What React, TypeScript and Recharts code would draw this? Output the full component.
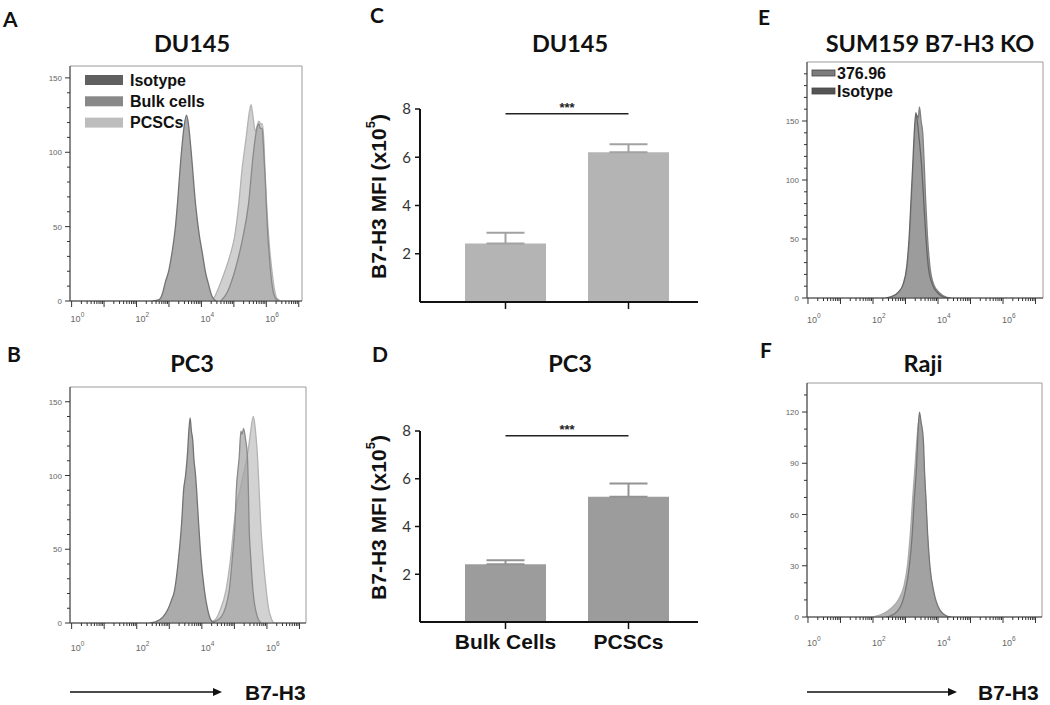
import React from 'react';
import { ComposedChart, Area, XAxis, YAxis, BarChart, Bar, ErrorBar, ReferenceLine, ReferenceArea } from 'recharts';

// ---- flow cytometry histograms: x = log10(B7-H3 intensity), y = cell count ----
// DU145 (panel A)
const duIsoX = [2.5, 2.7, 2.8, 2.88, 3.0, 3.09, 3.2, 3.26, 3.38, 3.47, 3.54, 3.6, 3.69, 3.82, 3.93, 4.03, 4.12, 4.21, 4.33, 4.45];
const duIsoY = [0, 1, 5, 12, 21, 32, 50, 65, 99, 118, 125, 119, 99, 65, 45, 32, 20, 12, 3, 0];
const duBulkX = [4.6, 4.8, 5.04, 5.25, 5.45, 5.6, 5.7, 5.77, 5.82, 5.87, 5.92, 5.97, 6.03, 6.1, 6.17, 6.28, 6.4];
const duBulkY = [0, 6, 21, 40, 65, 99, 115, 119, 116, 116, 100, 80, 50, 28, 12, 2, 0];
const duPcscX = [4.2, 4.38, 4.55, 4.74, 4.9, 5.02, 5.15, 5.25, 5.38, 5.47, 5.53, 5.59, 5.66, 5.72, 5.77, 5.83, 5.88, 5.93, 5.96, 6.04, 6.1, 6.17, 6.25, 6.32, 6.45];
const duPcscY = [0, 2, 10, 21, 32, 43, 65, 88, 110, 126, 132, 124, 114, 118, 121, 119, 119, 105, 88, 54, 36, 21, 8, 2, 0];

// PC3 (panel B)
const pcIsoX = [2.4, 2.6, 2.8, 2.95, 3.06, 3.16, 3.29, 3.38, 3.44, 3.5, 3.56, 3.6, 3.64, 3.68, 3.72, 3.76, 3.8, 3.84, 3.9, 3.97, 4.08, 4.18, 4.28, 4.4];
const pcIsoY = [0, 1, 4, 9, 15, 22, 45, 68, 90, 100, 115, 130, 139, 130, 124, 110, 102, 90, 68, 45, 22, 9, 2, 0];
const pcBulkX = [4.2, 4.38, 4.59, 4.84, 4.94, 5.02, 5.06, 5.15, 5.2, 5.24, 5.28, 5.34, 5.4, 5.43, 5.45, 5.5, 5.57, 5.71, 5.81];
const pcBulkY = [0, 1, 4, 22, 45, 68, 90, 113, 130, 128, 132, 125, 113, 90, 68, 45, 22, 4, 0];
const pcPcscX = [4.2, 4.4, 4.55, 4.74, 4.89, 4.99, 5.06, 5.15, 5.25, 5.35, 5.43, 5.5, 5.58, 5.63, 5.67, 5.71, 5.76, 5.81, 5.88, 5.98, 6.05, 6.12, 6.2];
const pcPcscY = [0, 2, 8, 22, 45, 67, 79, 88, 98, 108, 118, 130, 140, 134, 125, 113, 90, 67, 45, 22, 10, 4, 0];

// SUM159 B7-H3 KO (panel E)
const koStainX = [2.4, 2.52, 2.78, 2.95, 3.06, 3.14, 3.19, 3.24, 3.29, 3.35, 3.39, 3.43, 3.48, 3.53, 3.58, 3.62, 3.67, 3.75, 3.86, 4.06, 4.27, 4.4];
const koStainY = [0, 0.5, 4, 12, 27, 55, 83, 111, 140, 155, 152, 162, 150, 140, 111, 83, 55, 27, 12, 4, 0.5, 0];
const koIsoX = [2.4, 2.55, 2.78, 2.93, 3.04, 3.12, 3.17, 3.22, 3.27, 3.32, 3.37, 3.42, 3.5, 3.56, 3.62, 3.7, 3.82, 4.0, 4.2, 4.35];
const koIsoY = [0, 1, 5, 12, 27, 55, 83, 111, 140, 157, 148, 135, 111, 83, 55, 27, 12, 4, 0.5, 0];

// Raji (panel F)
const rajiStainX = [2.4, 2.52, 2.78, 2.98, 3.12, 3.21, 3.27, 3.34, 3.39, 3.43, 3.48, 3.53, 3.56, 3.58, 3.63, 3.68, 3.75, 3.88, 4.06, 4.27, 4.4];
const rajiStainY = [0, 0.5, 4, 14, 30, 49, 69, 88, 110, 120, 114, 108, 100, 88, 69, 49, 30, 14, 4, 0.5, 0];
const rajiIsoX = [2.0, 2.32, 2.55, 2.78, 2.95, 3.06, 3.15, 3.22, 3.3, 3.37, 3.42, 3.47, 3.52, 3.57, 3.62, 3.67, 3.74, 3.86, 4.04, 4.25, 4.4];
const rajiIsoY = [0, 2, 5, 10, 18, 30, 49, 69, 90, 108, 116, 112, 104, 88, 69, 49, 30, 14, 4, 0.5, 0];

// axis graduations
const decades = [0, 1, 2, 3, 4, 5, 6, 7];
const decadeLabels = [0, 2, 4, 6];
const minorSteps = [0.301, 0.477, 0.602, 0.699, 0.778, 0.845, 0.903, 0.954];
const count150Ticks = [0, 10, 20, 30, 40, 50, 60, 70, 80, 90, 100, 110, 120, 130, 140, 150];
const count150Labels = [0, 50, 100, 150];
const count190Ticks = [0, 10, 20, 30, 40, 50, 60, 70, 80, 90, 100, 110, 120, 130, 140, 150, 160, 170, 180, 190];
const count130Ticks = [0, 10, 20, 30, 40, 50, 60, 70, 80, 90, 100, 110, 120, 130];
const count120Labels = [0, 30, 60, 90, 120];

// ---- MFI bar charts ----
const groups = ['Bulk Cells', 'PCSCs'];
const duMfi = [2.42, 6.21];
const duErr = [[0, 0.45], [0, 0.33]];
const pcMfi = [2.42, 5.25];
const pcErr = [[0, 0.17], [0, 0.55]];
const mfiTicks = [2, 4, 6, 8];
const sigLevel = 7.8;

const ARIAL = 'Liberation Sans, Arial, sans-serif';
const TITLE = 'Lato, Open Sans, sans-serif';

type Series = { key: string; name: string; xs: number[]; ys: number[]; fill: string; stroke: string; opacity: number };

function buildRows(series: Series[]) {
  const rows: any[] = [];
  series.forEach((s) => s.xs.forEach((x, i) => rows.push({ x, [s.key]: s.ys[i] })));
  rows.sort((a, b) => a.x - b.x);
  return rows;
}

function logTicks(max: number) {
  const out: number[] = [];
  decades.forEach((d) => {
    if (d <= max) out.push(d);
    minorSteps.forEach((m) => {
      if (d + m < max) out.push(d + m);
    });
  });
  return out;
}

const LogTick = (props: any) => {
  const { x, y, payload, labelDy } = props;
  const v = payload.value;
  const n = Math.round(v);
  const major = Math.abs(v - n) < 1e-6;
  const labeled = major && decadeLabels.includes(n);
  return (
    <g>
      <line x1={x} y1={y} x2={x} y2={y + (major ? 6 : 3)} stroke="#333" strokeWidth={1} />
      {labeled && (
        <text x={x - 1} y={y + labelDy} textAnchor="start" fontSize={9} fill="#666" fontFamily={ARIAL}>
          10
          <tspan dy={-5} fontSize={6.5}>
            {n}
          </tspan>
        </text>
      )}
    </g>
  );
};

const CountTick = (props: any) => {
  const { x, y, payload, labels } = props;
  const major = labels.includes(payload.value);
  return (
    <g>
      <line x1={x} y1={y} x2={x - (major ? 5 : 3)} y2={y} stroke="#333" strokeWidth={1} />
      {major && (
        <text x={x - 8} y={y + 3} textAnchor="end" fontSize={8} fill="#666" fontFamily={ARIAL}>
          {payload.value}
        </text>
      )}
    </g>
  );
};

type HistProps = {
  left: number; top: number; width: number; height: number;
  margin: any; xDomain: number[]; yDomain: number[];
  yTicks: number[]; yLabels: number[]; labelDy: number; series: Series[];
};

function HistPanel(p: HistProps) {
  const rows = buildRows(p.series);
  return (
    <div style={{ position: 'absolute', left: p.left, top: p.top }}>
      <ComposedChart width={p.width} height={p.height} data={rows} margin={p.margin}>
        <XAxis
          dataKey="x" type="number" domain={p.xDomain} ticks={logTicks(p.xDomain[1])} interval={0}
          tickSize={0} tickMargin={0} tickLine={false} height={25} allowDataOverflow
          axisLine={{ stroke: '#444' }}
          tick={(t: any) => <LogTick {...t} labelDy={p.labelDy} />}
        />
        <YAxis
          type="number" domain={p.yDomain} ticks={p.yTicks} interval={0} width={30}
          tickSize={0} tickMargin={0} tickLine={false} allowDataOverflow
          axisLine={{ stroke: '#444' }}
          tick={(t: any) => <CountTick {...t} labels={p.yLabels} />}
        />
        <ReferenceArea x1={p.xDomain[0]} x2={p.xDomain[1]} y1={p.yDomain[0]} y2={p.yDomain[1]}
          fill="none" stroke="#9a9a9a" strokeWidth={1} ifOverflow="visible" />
        {p.series.map((s) => (
          <Area
            key={s.key} dataKey={s.key} name={s.name} type="monotone" connectNulls
            fill={s.fill} fillOpacity={s.opacity} stroke={s.stroke} strokeWidth={1.3}
            dot={false} activeDot={false} isAnimationActive={false}
          />
        ))}
      </ComposedChart>
    </div>
  );
}

const MfiLabel = (props: any) => {
  const vb = props.viewBox || { x: 20, y: 0, width: 50, height: 200 };
  const cx = vb.x + 8;
  const cy = vb.y + vb.height / 2 - 9;
  return (
    <text x={cx} y={cy} transform={`rotate(-90 ${cx} ${cy})`} textAnchor="middle" dominantBaseline="central"
      fontFamily={ARIAL} fontWeight="bold" fontSize={21} fill="#111">
      B7-H3 MFI (x10
      <tspan dy={-8} fontSize={13}>5</tspan>
      <tspan dy={8}>)</tspan>
    </text>
  );
};

type BarProps = { left: number; top: number; margin: any; xHeight: number; mfi: number[]; err: number[][]; fill: string; errColor: string; showLabels: boolean };

function MfiPanel(p: BarProps) {
  const rows = groups.map((g, i) => ({ group: g, mfi: p.mfi[i], err: p.err[i] }));
  return (
    <div style={{ position: 'absolute', left: p.left, top: p.top }}>
      <BarChart width={350} height={330} data={rows} margin={p.margin}>
        <XAxis
          dataKey="group" height={p.xHeight} padding={{ left: 24, right: 8 }} interval={0}
          axisLine={{ stroke: '#111', strokeWidth: 2 }} tickLine={{ stroke: '#111', strokeWidth: 1.5 }}
          tickSize={7} tickMargin={5}
          tick={p.showLabels ? { fontFamily: ARIAL, fontWeight: 'bold', fontSize: 21, fill: '#111' } : () => <g />}
        />
        <YAxis
          type="number" domain={[0, 8]} ticks={mfiTicks} interval={0} width={50}
          axisLine={{ stroke: '#111', strokeWidth: 2 }} tickLine={{ stroke: '#111', strokeWidth: 1.5 }}
          tickSize={5} tickMargin={4}
          tick={{ fontFamily: TITLE, fontSize: 15, fill: '#333' }}
          label={<MfiLabel />}
        />
        <Bar dataKey="mfi" fill={p.fill} barSize={81} isAnimationActive={false}>
          <ErrorBar dataKey="err" width={19} stroke={p.errColor} strokeWidth={2} direction="y" />
        </Bar>
        <ReferenceLine
          segment={[{ x: groups[0], y: sigLevel }, { x: groups[1], y: sigLevel }]}
          stroke="#222" strokeWidth={1.5}
          label={{ value: '***', position: 'top', offset: 2, fontFamily: ARIAL, fontWeight: 'bold', fontSize: 13, fill: '#222' }}
        />
      </BarChart>
    </div>
  );
}

const duSeries: Series[] = [
  { key: 'pcsc', name: 'PCSCs', xs: duPcscX, ys: duPcscY, fill: '#d0d0d0', stroke: '#b3b3b3', opacity: 1 },
  { key: 'bulk', name: 'Bulk cells', xs: duBulkX, ys: duBulkY, fill: '#a3a3a3', stroke: '#8a8a8a', opacity: 0.65 },
  { key: 'iso', name: 'Isotype', xs: duIsoX, ys: duIsoY, fill: '#ababab', stroke: '#737373', opacity: 1 },
];
const pcSeries: Series[] = [
  { key: 'pcsc', name: 'PCSCs', xs: pcPcscX, ys: pcPcscY, fill: '#d2d2d2', stroke: '#b3b3b3', opacity: 1 },
  { key: 'bulk', name: 'Bulk cells', xs: pcBulkX, ys: pcBulkY, fill: '#a3a3a3', stroke: '#8a8a8a', opacity: 0.7 },
  { key: 'iso', name: 'Isotype', xs: pcIsoX, ys: pcIsoY, fill: '#ababab', stroke: '#737373', opacity: 1 },
];
const koSeries: Series[] = [
  { key: 'stain', name: '376.96', xs: koStainX, ys: koStainY, fill: '#a3a3a3', stroke: '#808080', opacity: 1 },
  { key: 'iso', name: 'Isotype', xs: koIsoX, ys: koIsoY, fill: '#9a9a9a', stroke: '#666', opacity: 0.8 },
];
const rajiSeries: Series[] = [
  { key: 'iso', name: 'Isotype', xs: rajiIsoX, ys: rajiIsoY, fill: '#b5b5b5', stroke: '#ababab', opacity: 1 },
  { key: 'stain', name: 'B7-H3', xs: rajiStainX, ys: rajiStainY, fill: '#a0a0a0', stroke: '#777', opacity: 0.9 },
];

const duLegend = [
  { name: 'Isotype', color: '#606060' },
  { name: 'Bulk cells', color: '#888888' },
  { name: 'PCSCs', color: '#bdbdbd' },
];
const koLegend = [
  { name: '376.96', color: '#7c7c7c' },
  { name: 'Isotype', color: '#555555' },
];

const Arrow = ({ x1, x2, y, textX }: { x1: number; x2: number; y: number; textX: number }) => (
  <g>
    <line x1={x1} y1={y} x2={x2 - 7} y2={y} stroke="#111" strokeWidth={1.5} />
    <polygon points={`${x2 - 9},${y - 4} ${x2},${y} ${x2 - 9},${y + 4}`} fill="#111" />
    <text x={textX} y={y + 7.5} fontFamily={ARIAL} fontWeight="bold" fontSize={21} fill="#111">B7-H3</text>
  </g>
);

export default function App() {
  const letter = { fontFamily: TITLE, fontWeight: 'bold' as const, fontSize: 21, fill: '#111' };
  const title = { fontFamily: TITLE, fontWeight: 'bold' as const, fontSize: 23.5, fill: '#111', textAnchor: 'middle' as const };
  return (
    <div style={{ position: 'absolute', left: 0, top: 0, width: 1050, height: 705, background: '#fff', overflow: 'hidden' }}>
      <HistPanel left={0} top={0} width={350} height={330} margin={{ top: 66, right: 48, left: 40, bottom: 4 }}
        xDomain={[-0.05, 7.1]} yDomain={[0, 158]} yTicks={count150Ticks} yLabels={count150Labels} labelDy={21} series={duSeries} />
      <HistPanel left={0} top={330} width={350} height={330} margin={{ top: 57, right: 44, left: 40, bottom: 12 }}
        xDomain={[-0.05, 7.2]} yDomain={[0, 160]} yTicks={count150Ticks} yLabels={count150Labels} labelDy={28} series={pcSeries} />
      <HistPanel left={700} top={0} width={350} height={330} margin={{ top: 62, right: 7, left: 77, bottom: 7 }}
        xDomain={[-0.03, 7.23]} yDomain={[0, 200]} yTicks={count190Ticks} yLabels={count150Labels} labelDy={25} series={koSeries} />
      <HistPanel left={700} top={330} width={350} height={330} margin={{ top: 53, right: 8, left: 77, bottom: 18 }}
        xDomain={[-0.03, 7.2]} yDomain={[0, 137]} yTicks={count130Ticks} yLabels={count120Labels} labelDy={29} series={rajiSeries} />

      <MfiPanel left={350} top={0} margin={{ top: 109, right: 2, left: 20, bottom: 8 }} xHeight={20}
        mfi={duMfi} err={duErr} fill="#b4b4b4" errColor="#a2a2a2" showLabels={false} />
      <MfiPanel left={350} top={330} margin={{ top: 101, right: 2, left: 20, bottom: 8 }} xHeight={30}
        mfi={pcMfi} err={pcErr} fill="#9c9c9c" errColor="#939393" showLabels={true} />

      <svg width={1050} height={705} style={{ position: 'absolute', left: 0, top: 0, pointerEvents: 'none' }}>
        <text x={3} y={27} {...letter}>A</text>
        <text x={7} y={362} {...letter}>B</text>
        <text x={370} y={23} {...letter}>C</text>
        <text x={372} y={362} {...letter}>D</text>
        <text x={758} y={25} {...letter}>E</text>
        <text x={760} y={358} {...letter}>F</text>

        <text x={192} y={51.5} {...title}>DU145</text>
        <text x={192} y={371.5} {...title}>PC3</text>
        <text x={570} y={51.5} {...title}>DU145</text>
        <text x={570} y={371.5} {...title}>PC3</text>
        <text x={930} y={51.5} {...title}>SUM159 B7-H3 KO</text>
        <text x={923} y={371.5} {...title}>Raji</text>

        {duLegend.map((l, i) => (
          <g key={l.name}>
            <rect x={85} y={75 + i * 21.3} width={38} height={10} fill={l.color} />
            <text x={130} y={85.5 + i * 21.3} fontFamily={ARIAL} fontWeight="bold" fontSize={16} fill="#111">{l.name}</text>
          </g>
        ))}
        {koLegend.map((l, i) => (
          <g key={l.name}>
            <rect x={812} y={70 + i * 18} width={23} height={6} fill={l.color} stroke="#444" strokeWidth={0.8} />
            <text x={837} y={79 + i * 18} fontFamily={ARIAL} fontWeight="bold" fontSize={16} fill="#111">{l.name}</text>
          </g>
        ))}

        <Arrow x1={70} x2={222} y={692} textX={245} />
        <Arrow x1={807} x2={957} y={692} textX={978} />
      </svg>
    </div>
  );
}
